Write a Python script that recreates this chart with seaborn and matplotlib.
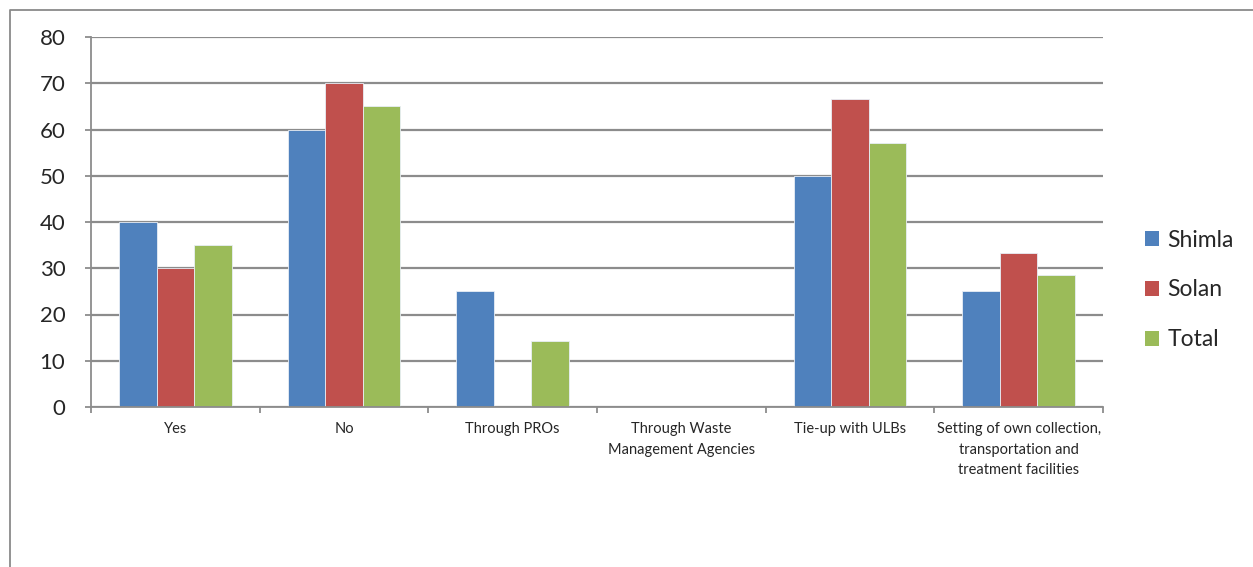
import matplotlib
matplotlib.use("Agg")
import matplotlib.pyplot as plt
from matplotlib.lines import Line2D
from matplotlib.patches import Patch
import numpy as np
import pandas as pd
import seaborn as sns

categories = [
    "Yes",
    "No",
    "Through PROs",
    "Through Waste\nManagement Agencies",
    "Tie-up with ULBs",
    "Setting of own collection,\ntransportation and\ntreatment facilities",
]
series_names = ["Shimla", "Solan", "Total"]
shimla = [40, 60, 25, 0, 50, 25]
solan = [30, 70, 0, 0, 66.67, 33.33]
total = [35, 65, 14.29, 0, 57.14, 28.57]
colors = ["#4F81BD", "#C0504D", "#9BBB59"]
y_ticks = [0, 10, 20, 30, 40, 50, 60, 70, 80]

sns.set_theme(style="white")
plt.rcParams["font.family"] = ["Lato", "DejaVu Sans"]

rows = []
for name, vals in zip(series_names, [shimla, solan, total]):
    for cat, v in zip(categories, vals):
        rows.append({"category": cat, "series": name, "value": v})
df = pd.DataFrame(rows)

fig = plt.figure(figsize=(12.53, 5.67), dpi=100)
ax = fig.add_axes([91 / 1253, 1 - 407 / 567, (1103 - 91) / 1253, (407 - 37) / 567])

sns.barplot(
    data=df, x="category", y="value", hue="series", order=categories,
    hue_order=series_names, palette=colors, width=2 / 3, ax=ax,
    edgecolor="#e8eef6", linewidth=0.6, saturation=1, legend=False,
)

grid_col = "#8c8c8c"
ax.set_ylim(0, 80)
ax.set_xlim(-0.5, len(categories) - 0.5)
ax.set_yticks(y_ticks)
ax.set_yticklabels([str(t) for t in y_ticks], fontsize=16)
ax.yaxis.grid(True, color=grid_col, linewidth=1.6)
ax.set_axisbelow(True)
ax.set_xlabel("")
ax.set_ylabel("")

# category labels centered, tick marks at the category boundaries
ax.set_xticks(range(len(categories)))
ax.set_xticklabels(categories, fontsize=10.5, linespacing=1.6, va="top")
ax.tick_params(axis="x", which="major", length=0, pad=11)
ax.set_xticks(np.arange(-0.5, len(categories)), minor=True)
ax.tick_params(axis="x", which="minor", length=4.5, width=1.3, color=grid_col, direction="out", bottom=True)
ax.tick_params(axis="y", which="major", length=4.5, width=1.3, color=grid_col, direction="out", left=True, pad=14)

for side in ["top", "right"]:
    ax.spines[side].set_visible(False)
for side in ["left", "bottom"]:
    ax.spines[side].set_color(grid_col)
    ax.spines[side].set_linewidth(1.3)

handles = [Patch(facecolor=c, edgecolor="none") for c in colors]
fig.legend(
    handles, series_names, loc="center left", bbox_to_anchor=(1145 / 1253, 1 - 290 / 567),
    frameon=False, fontsize=16.5, handlelength=0.62, handleheight=0.62,
    handletextpad=0.35, labelspacing=1.25, borderpad=0, borderaxespad=0,
)

# outer chart frame
fig.add_artist(Line2D([10 / 1253, 10 / 1253, 1.0], [0.0, 1 - 10 / 567, 1 - 10 / 567],
                      transform=fig.transFigure, color="#8a8a8a", linewidth=1.3))

fig.savefig("out.png", dpi=100)
